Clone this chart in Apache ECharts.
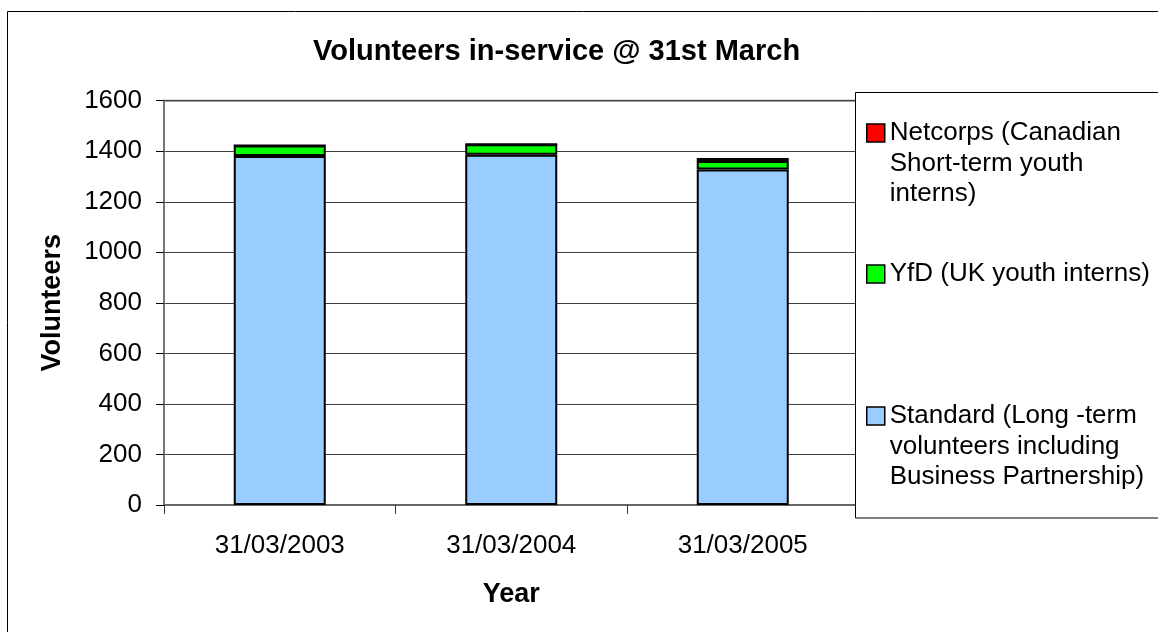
<!DOCTYPE html>
<html>
<head>
<meta charset="utf-8">
<title>Volunteers in-service @ 31st March</title>
<script src="https://cdn.jsdelivr.net/npm/echarts@6/dist/echarts.min.js"></script>
<style>
  html, body { margin: 0; padding: 0; background: #fff; }
  #chart { width: 1158px; height: 632px; }
</style>
</head>
<body>
<div id="chart"></div>
<script>
// Census dates (x categories)
const categories = ['31/03/2003', '31/03/2004', '31/03/2005'];

// Volunteers in service on each date, by programme
const standardValues = [1381, 1386, 1328];
const yfdValues = [42, 42, 33];
const netcorpsValues = [0, 0, 12];

// Series names as shown in the legend
const standardName = 'Standard (Long -term\nvolunteers including\nBusiness Partnership)';
const yfdName = 'YfD (UK youth interns)';
const netcorpsName = 'Netcorps (Canadian\nShort-term youth\ninterns)';

// Value axis ticks
const yMin = 0;
const yMax = 1600;
const yStep = 200;

const FONT = '"Liberation Sans", Arial, sans-serif';
const LINE_H = 30.5;
const SWATCH = 18;

const chart = echarts.init(document.getElementById('chart'), null, { renderer: 'canvas' });

function barSeries(name, values, color) {
  return {
    name: name,
    type: 'bar',
    stack: 'total',
    data: values,
    barWidth: 92,
    itemStyle: { color: color, borderColor: '#000', borderWidth: 2 },
    emphasis: { disabled: true }
  };
}

// One legend block per entry, so the gaps between entries can differ.
// Legend text is centred on the swatch, so a multi-line label gets blank
// lines above it to keep its first line level with the swatch.
function legendBlock(name, swatchCenterY) {
  const lines = name.split('\n').length;
  const pad = lines - 1;
  const total = lines + pad;
  const top = swatchCenterY - (total * LINE_H) / 2;
  return {
    data: [name],
    orient: 'vertical',
    left: 866,
    top: top,
    padding: 0,
    z: 120,
    icon: 'rect',
    itemWidth: SWATCH,
    itemHeight: SWATCH,
    selectedMode: false,
    formatter: function (n) { return '\n'.repeat(pad) + n; },
    itemStyle: { borderColor: '#000', borderWidth: 1.5 },
    textStyle: {
      fontFamily: FONT,
      fontSize: 26,
      color: '#000',
      lineHeight: LINE_H
    }
  };
}

const option = {
  animation: false,
  backgroundColor: '#fff',
  title: {
    text: 'Volunteers in-service @ 31st March',
    left: 313,
    top: 37,
    padding: 0,
    textStyle: { fontFamily: FONT, fontSize: 29, fontWeight: 'bold', color: '#000' }
  },
  graphic: [
    {
      type: 'rect',
      z: -10,
      silent: true,
      shape: { x: 7.5, y: 11.5, width: 1200, height: 700 },
      style: { fill: 'none', stroke: '#000', lineWidth: 1 }
    },
    {
      type: 'rect',
      z: 100,
      silent: true,
      shape: { x: 855.5, y: 92.5, width: 400, height: 425.5 },
      style: { fill: '#fff', stroke: '#000', lineWidth: 1 }
    }
  ],
  legend: [
    legendBlock(netcorpsName, 133),
    legendBlock(yfdName, 274),
    legendBlock(standardName, 416)
  ],
  grid: {
    left: 164,
    top: 100.7,
    right: 299.5,
    bottom: 127,
    show: true,
    borderColor: '#808080',
    borderWidth: 2,
    containLabel: false
  },
  xAxis: {
    type: 'category',
    data: categories,
    boundaryGap: true,
    name: 'Year',
    nameLocation: 'middle',
    nameGap: 76,
    nameTextStyle: { fontFamily: FONT, fontSize: 27, fontWeight: 'bold', color: '#000' },
    axisLine: { show: true, lineStyle: { color: '#666', width: 2 } },
    axisTick: { show: true, alignWithLabel: false, length: 9, lineStyle: { color: '#333', width: 1 } },
    axisLabel: { fontFamily: FONT, fontSize: 26, color: '#000', margin: 28 },
    splitLine: { show: false }
  },
  yAxis: {
    type: 'value',
    min: yMin,
    max: yMax,
    interval: yStep,
    name: 'Volunteers',
    nameLocation: 'middle',
    nameGap: 98,
    nameRotate: 90,
    nameTextStyle: { fontFamily: FONT, fontSize: 27, fontWeight: 'bold', color: '#000' },
    axisLine: { show: true, lineStyle: { color: '#777', width: 2 } },
    axisTick: { show: true, length: 8, lineStyle: { color: '#000', width: 1 } },
    axisLabel: {
      fontFamily: FONT, fontSize: 26, color: '#000', margin: 22,
      formatter: function (v) { return String(v); }
    },
    splitLine: { show: true, lineStyle: { color: '#404040', width: 1 } }
  },
  series: [
    barSeries(standardName, standardValues, '#99ccff'),
    barSeries(yfdName, yfdValues, '#00ff00'),
    barSeries(netcorpsName, netcorpsValues, '#ff0000')
  ]
};

chart.setOption(option);
</script>
</body>
</html>
